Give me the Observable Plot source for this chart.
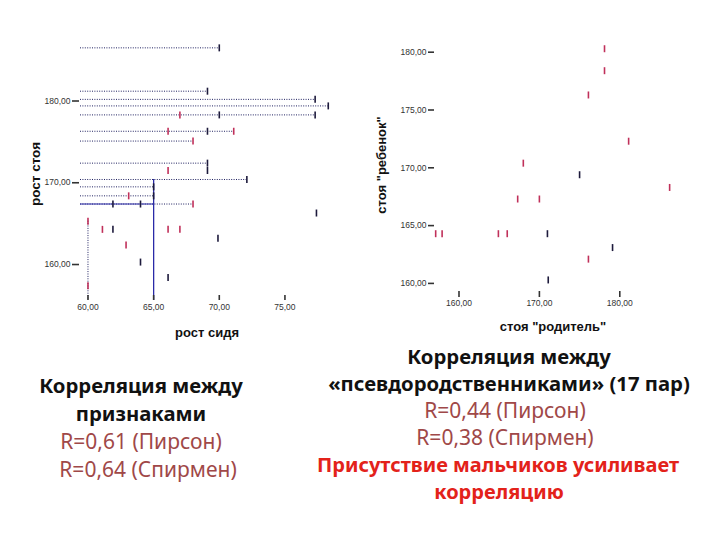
<!DOCTYPE html>
<html><head><meta charset="utf-8">
<script src="https://cdn.jsdelivr.net/npm/d3@7"></script>
<script src="https://cdn.jsdelivr.net/npm/@observablehq/plot@0.6"></script>
<style>
body{margin:0;background:#fff;}
#page{position:relative;width:720px;height:540px;overflow:hidden;background:#fff;}
.plot{position:absolute;top:0;}
.axlab{position:absolute;font-family:"Liberation Sans",Arial,sans-serif;font-weight:bold;font-size:12.5px;color:#111;white-space:nowrap;transform:translate(-50%,-50%);}
.rot{transform:translate(-50%,-50%) rotate(-90deg);}
.block{position:absolute;text-align:center;font-family:"Noto Sans",Lato,sans-serif;white-space:nowrap;transform:translateX(-50%);}
.t{font-weight:bold;color:#111;font-size:20.3px;}
.r{color:#a04848;font-size:21px;}
.red{font-weight:bold;color:#e3221a;font-size:20px;}
</style></head><body><div id="page">
<div id="left" class="plot" style="left:0"></div>
<div id="right" class="plot" style="left:360px"></div>
<div class="axlab rot" style="left:35px;top:174px;font-size:13.5px">рост стоя</div>
<div class="axlab" style="left:207px;top:332px;font-size:13px">рост сидя</div>
<div class="axlab rot" style="left:381px;top:165px;font-size:13px">стоя "ребенок"</div>
<div class="axlab" style="left:553px;top:326px;font-size:13px">стоя "родитель"</div>
<div class="block" style="left:141px;top:371px;line-height:28px">
<div class="t">Корреляция между</div>
<div class="t">признаками</div>
<div class="r">R=0,61 (Пирсон)</div>
<div class="r" style="position:relative;left:7px">R=0,64 (Спирмен)</div>
</div>
<div class="block" style="left:505px;top:343px;line-height:27px">
<div class="t" style="position:relative;left:4px">Корреляция между</div>
<div class="t" style="position:relative;left:4px">«псевдородственниками» (17 пар)</div>
<div class="r">R=0,44 (Пирсон)</div>
<div class="r">R=0,38 (Спирмен)</div>
<div class="red" style="position:relative;left:-7px">Присутствие мальчиков усиливает</div>
<div class="red" style="position:relative;left:-6px">корреляцию</div>
</div>
</div>
<script>
// ---- left chart: рост сидя (x) vs рост стоя (y)
const leftX = [70.0, 69.1, 77.3, 78.3, 77.3, 67.0, 70.0, 66.1, 69.1, 71.1, 68.0, 69.1, 66.1, 69.1, 72.1, 65.0, 63.1, 65.0, 61.9, 64.0, 68.0, 77.4, 60.0, 61.1, 61.9, 66.1, 67.0, 69.9, 62.9, 64.0, 66.1, 60.0];
const leftY = [186.5, 181.2, 180.2, 179.4, 178.3, 178.3, 178.3, 176.3, 176.3, 176.3, 175.1, 172.4, 171.5, 171.5, 170.4, 169.5, 168.4, 168.4, 167.4, 167.4, 167.4, 166.3, 165.3, 164.3, 164.3, 164.3, 164.3, 163.2, 162.4, 160.3, 158.4, 157.4];
const leftGroup = ["d","d","d","d","d","p","d","p","d","p","p","d","p","d","d","d","p","d","d","d","p","d","p","p","d","p","p","d","p","d","d","p"];
const leftGuideRows = [186.5, 181.2, 180.2, 179.4, 178.3, 176.3, 175.1, 172.4, 170.4, 169.5, 168.4, 167.4];
const leftCrossX = 65, leftCrossTopY = 170.4, leftCrossY = 167.4;
const leftDropX = 60, leftDropTopY = 165.3;
const leftXTicks = [60, 65, 70, 75];
const leftYTicks = [160, 170, 180];

// ---- right chart: стоя "родитель" (x) vs стоя "ребенок" (y), 17 pairs
const rightX = [178.1, 178.1, 176.1, 181.1, 168.0, 175.0, 186.2, 167.3, 170.0, 157.1, 157.9, 164.9, 166.0, 171.0, 179.1, 176.1, 171.1];
const rightY = [180.3, 178.4, 176.3, 172.3, 170.4, 169.4, 168.3, 167.3, 167.3, 164.3, 164.3, 164.3, 164.3, 164.3, 163.1, 162.1, 160.3];
const rightGroup = ["p","p","p","p","p","d","p","p","p","p","p","p","p","d","d","p","d"];
const rightXTicks = [160, 170, 180];
const rightYTicks = [160, 165, 170, 175, 180];

const fmt = d => d.toFixed(2).replace(".", ",");
const bar = {draw(ctx) { ctx.rect(-0.8, -3.5, 1.6, 7); }};
const colors = {domain: ["d", "p"], range: ["#1d1a3c", "#c0305a"]};

const leftPts = leftX.map((x, i) => ({x, y: leftY[i], g: leftGroup[i]}));
const rightPts = rightX.map((x, i) => ({x, y: rightY[i], g: rightGroup[i]}));
const guides = leftGuideRows.map(y => ({y, x2: d3.max(leftPts.filter(p => p.y === y), p => p.x)}));

const lxDom = [59.43, 78.47], lyDom = [155.6, 187.4];
const left = Plot.plot({
  width: 345, height: 345, marginLeft: 79, marginBottom: 50, marginTop: 0, marginRight: 0,
  style: {background: "transparent", fontFamily: "Liberation Sans, Arial, sans-serif", color: "#333"},
  x: {domain: lxDom, range: [80, 330]},
  y: {domain: lyDom, range: [300, 40]},
  color: colors,
  marks: [
    Plot.ruleY(guides, {y: "y", x1: lxDom[0], x2: "x2", stroke: "#1f2060", strokeWidth: 1, strokeDasharray: "1,1.4"}),
    Plot.ruleX([leftDropX], {x: d => d, y1: leftDropTopY, y2: lyDom[0], stroke: "#1f2060", strokeDasharray: "1,1.4"}),
    Plot.ruleY([leftCrossY], {y: d => d, x1: lxDom[0], x2: leftCrossX, stroke: "#2a2aa8", strokeWidth: 1.2}),
    Plot.ruleX([leftCrossX], {x: d => d, y1: leftCrossTopY, y2: lyDom[0], stroke: "#2a2aa8", strokeWidth: 1.3}),
    Plot.dot(leftPts, {x: "x", y: "y", fill: "g", symbol: bar, stroke: null}),
    Plot.axisX({ticks: leftXTicks, tickFormat: fmt, tickSize: 5, tickPadding: 3, fontSize: 8.5, strokeWidth: 1.6, label: null}),
    Plot.axisY({ticks: leftYTicks, tickFormat: fmt, tickSize: 7, tickPadding: 2, fontSize: 8.5, strokeWidth: 1.6, label: null})
  ]
});
document.getElementById("left").append(left);

const rxDom = [154, 188], ryDom = [159.3, 180.6];
const right = Plot.plot({
  width: 360, height: 345, marginLeft: 74, marginBottom: 54, marginTop: 0, marginRight: 0,
  style: {background: "transparent", fontFamily: "Liberation Sans, Arial, sans-serif", color: "#333"},
  x: {domain: rxDom, range: [50.26, 323.6]},
  y: {domain: ryDom, range: [291, 44.76]},
  color: colors,
  marks: [
    Plot.dot(rightPts, {x: "x", y: "y", fill: "g", symbol: bar, stroke: null}),
    Plot.axisX({ticks: rightXTicks, tickFormat: fmt, tickSize: 6, tickPadding: 2, fontSize: 8.5, strokeWidth: 1.6, label: null}),
    Plot.axisY({ticks: rightYTicks, tickFormat: fmt, tickSize: 6, tickPadding: 2, fontSize: 8.5, strokeWidth: 1.6, label: null})
  ]
});
document.getElementById("right").append(right);
</script>
</body></html>
